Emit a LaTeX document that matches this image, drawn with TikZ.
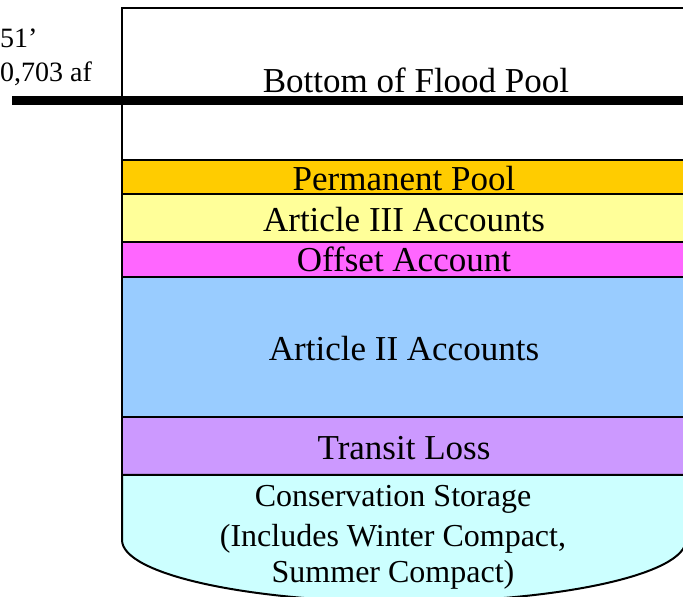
\documentclass[tikz,border=0pt]{standalone}
\usepackage{fontspec}
\setmainfont{Liberation Serif}
\definecolor{cPerm}{HTML}{FFCC00}
\definecolor{cArtIII}{HTML}{FFFF99}
\definecolor{cOffset}{HTML}{FF66FF}
\definecolor{cArtII}{HTML}{99CCFF}
\definecolor{cTransit}{HTML}{CC99FF}
\definecolor{cCons}{HTML}{CCFFFF}
\tikzset{
  band/.style={draw=black, line width=2pt},
  lbl/.style={anchor=base, inner sep=0pt, font=\fontsize{35}{40}\selectfont},
  clbl/.style={anchor=base, inner sep=0pt, font=\fontsize{32}{38}\selectfont},
  sidelbl/.style={anchor=base west, inner sep=0pt, font=\fontsize{28}{32}\selectfont}
}
\begin{document}
\begin{tikzpicture}[x=1pt,y=1pt]
\useasboundingbox (0,0) rectangle (683,597);
% bands
\path[band, fill=cPerm] (122,403) rectangle (690,437);
\path[band, fill=cArtIII] (122,355) rectangle (690,403);
\path[band, fill=cOffset] (122,320) rectangle (690,355);
\path[band, fill=cArtII] (122,180) rectangle (690,320);
\path[band, fill=cTransit] (122,122) rectangle (690,180);
\path[band, fill=cCons] (122,122) -- (122,57)
   arc[start angle=180, end angle=360, x radius=282, y radius=62]
   -- (686,122) -- cycle;
% container outline
\draw[line width=2pt] (122,57) -- (122,589) -- (690,589);
% flood line
\coordinate (fl) at (12,496);
\coordinate (fr) at (683,496);
\draw[line width=9pt] (fl) -- (fr);
% labels
\node[sidelbl] (elev) at (0,549) {51’};
\node[sidelbl] (vol) at (0,515) {0,703 af};
\node[lbl] (flood) at (416,504) {Bottom of Flood Pool};
\node[lbl] (perm) at (404,406) {Permanent Pool};
\node[lbl] (art3) at (404,365) {Article III Accounts};
\node[lbl] (offs) at (404,325) {Offset Account};
\node[lbl] (art2) at (404,236) {Article II Accounts};
\node[lbl] (trans) at (404,137) {Transit Loss};
\node[clbl] (cons1) at (393,90) {Conservation Storage};
\node[clbl] (cons2) at (393,50) {(Includes Winter Compact,};
\node[clbl] (cons3) at (393,14) {Summer Compact)};
\end{tikzpicture}
\end{document}
